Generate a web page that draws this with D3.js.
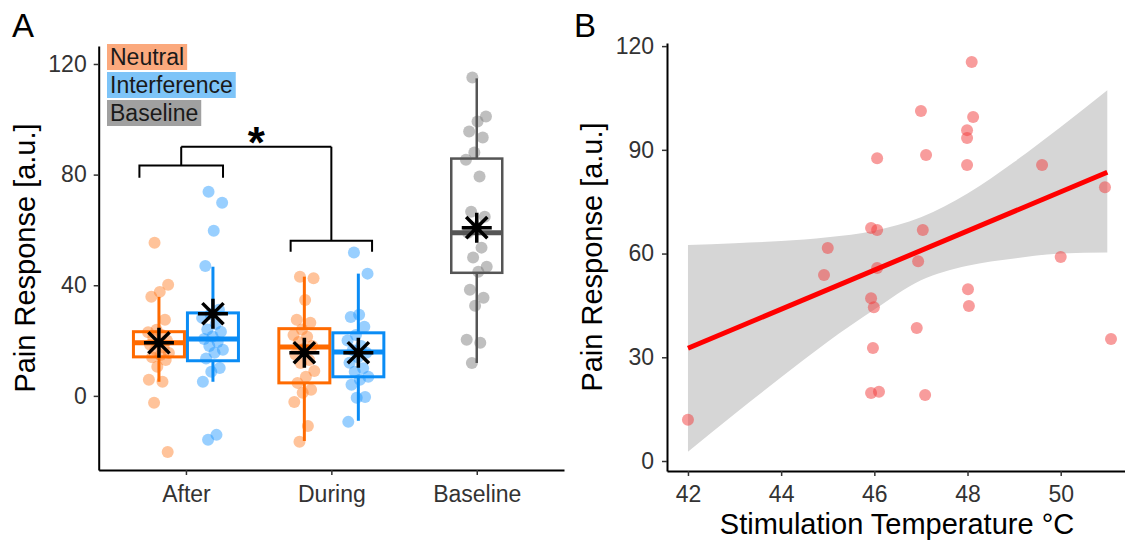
<!DOCTYPE html>
<html>
<head>
<meta charset="utf-8">
<script src="https://cdn.jsdelivr.net/npm/d3@7"></script>
<style>
  body { margin: 0; background: #fff; }
  text { font-family: "Liberation Sans", Arial, sans-serif; }
</style>
</head>
<body>
<svg id="chart" width="1125" height="543"></svg>
<script>
// ---- panel A data ----
const groups = ["After", "During", "Baseline"];
const conditions = ["Neutral", "Interference"];

// box summaries
const boxGroup  = ["After", "After", "During", "During", "Baseline"];
const boxCond   = ["Neutral", "Interference", "Neutral", "Interference", "Baseline"];
const boxLow    = [5.1, 5.1, -16.3, -9.0, 11.9];
const boxQ1     = [14.1, 12.7, 4.7, 6.9, 44.5];
const boxMedian = [19.2, 20.6, 17.7, 15.9, 59.0];
const boxQ3     = [23.2, 30.0, 24.3, 22.8, 85.8];
const boxHigh   = [35.8, 46.7, 43.1, 44.2, 114.8];
const boxMean   = [19.2, 29.7, 15.6, 15.6, 60.8];

// individual responses
const afterNeutral = [55.4, 40.2, 37.6, 35.8, 27.5, 23.9, 23.0, 22.0, 21.0, 20.0, 19.2, 18.5,
  17.5, 16.7, 15.5, 14.8, 14.0, 13.0, 10.5, 5.8, 5.1, -2.5, -20.3];
const afterInterference = [73.8, 69.8, 59.7, 47.0, 31.1, 29.5, 28.2, 26.0, 24.0, 23.2, 21.5,
  20.6, 19.5, 18.0, 16.7, 15.6, 13.5, 10.1, 8.7, 5.1, -14.1, -15.9];
const duringNeutral = [43.1, 42.5, 34.7, 27.5, 26.4, 24.0, 22.0, 21.4, 19.5, 18.0, 17.0, 15.0,
  13.0, 11.9, 9.0, 6.9, 4.7, 2.2, 1.1, -2.2, -10.9, -16.6];
const duringInterference = [51.8, 44.2, 29.3, 28.5, 25.0, 22.0, 20.0, 18.0, 16.5, 15.6, 14.0,
  12.0, 10.0, 8.7, 6.9, 5.8, 4.0, -0.4, -0.7, -9.4];
const baselineValues = [115.1, 101.0, 99.2, 95.6, 93.4, 88.0, 85.4, 79.3, 66.6, 64.8, 61.0,
  59.0, 53.6, 50.0, 46.7, 44.9, 38.4, 35.5, 32.6, 20.3, 19.2, 11.9];
const pointSets = [afterNeutral, afterInterference, duringNeutral, duringInterference, baselineValues];

const legendLabels = ["Neutral", "Interference", "Baseline"];
const yTicksA = [0, 40, 80, 120];

// significance bracket levels
const bracketLevels = [83.3, 56.1];
const bracketDrops = [78.9, 52.1];
const bracketTop = 90.1;

// ---- panel B data ----
const tempX = [42.0, 44.92, 45.0, 46.06, 45.93, 46.06, 46.06, 45.93, 45.99, 45.97, 45.93, 46.10,
  47.0, 47.11, 47.04, 46.94, 46.91, 47.09, 48.09, 48.12, 47.99, 47.99, 47.99, 48.01, 48.03,
  49.6, 50.0, 50.95, 51.08];
const painY = [11.9, 53.8, 61.6, 87.6, 67.4, 66.8, 55.8, 47.1, 44.5, 32.7, 19.7, 20.0,
  101.2, 88.5, 66.8, 57.8, 38.5, 19.1, 115.4, 99.5, 95.7, 93.4, 85.6, 49.7, 44.8,
  85.6, 59.0, 79.2, 35.3];
const fitX = [42, 51.0];
const fitY = [32.6, 83.5];
const ciX = [42, 43, 44, 45, 46, 47, 48, 49, 50, 51];
const ciLow = [2.7, 13.6, 24.2, 34.5, 43.8, 52.3, 56.5, 58.6, 60.0, 60.3];
const ciHigh = [62.5, 63.0, 63.6, 64.7, 66.6, 70.5, 77.4, 86.5, 96.6, 107.2];
const xTicksB = [42, 44, 46, 48, 50];
const yTicksB = [0, 30, 60, 90, 120];

const colors = { Neutral: "#ff6a00", Interference: "#0a8cf5", Baseline: "#555555" };
const pointColors = { Neutral: "#ff7a1f", Interference: "#1a94ff", Baseline: "#808080" };
const legendFill = { Neutral: "#fba97d", Interference: "#7dc4f8", Baseline: "#a0a0a0" };

const svg = d3.select("#chart");

function styleAxis(g) {
  g.select(".domain").attr("stroke", "#000").attr("stroke-width", 2);
  g.selectAll(".tick line").attr("stroke", "#333").attr("stroke-width", 1.5);
  g.selectAll(".tick text").attr("fill", "#333").style("font-size", "23px")
    .style("font-family", '"Liberation Sans", Arial, sans-serif');
}

function asterisk(g, cx, cy, r) {
  const d = r / Math.SQRT2;
  g.append("path")
    .attr("d", `M${cx - r},${cy}H${cx + r}M${cx},${cy - r}V${cy + r}` +
      `M${cx - d},${cy - d}L${cx + d},${cy + d}M${cx - d},${cy + d}L${cx + d},${cy - d}`)
    .attr("stroke", "#000").attr("stroke-width", 3.5).attr("fill", "none");
}

// ================= Panel A =================
const yA = d3.scaleLinear().domain([-26.8, 126.5]).range([470, 46]);
const xA = d3.scalePoint().domain(groups).range([98.7, 564]).padding(0.6);
const step = xA.step();
const dodge = d3.scaleBand().domain(conditions).range([-54, 54]);
const boxW = 51;

function boxCenter(i) {
  const c = xA(boxGroup[i]);
  if (boxCond[i] === "Baseline") return c;
  return c + dodge(boxCond[i]) + dodge.bandwidth() / 2;
}

const gA = svg.append("g");

// jittered points
pointSets.forEach((vals, i) => {
  const cx = boxCenter(i);
  const cond = boxCond[i];
  gA.append("g").selectAll("circle").data(vals).join("circle")
    .attr("cx", (d, j) => cx + (((j * 0.618034 + 0.3) % 1) - 0.5) * 22)
    .attr("cy", d => yA(d))
    .attr("r", 6)
    .attr("fill", pointColors[cond])
    .attr("fill-opacity", cond === "Baseline" ? 0.5 : 0.45);
});

// boxes
boxGroup.forEach((grp, i) => {
  const cx = boxCenter(i);
  const col = colors[boxCond[i]];
  const sw = boxCond[i] === "Baseline" ? 2.5 : 3;
  const g = gA.append("g");
  g.append("line").attr("x1", cx).attr("x2", cx)
    .attr("y1", yA(boxHigh[i])).attr("y2", yA(boxQ3[i]))
    .attr("stroke", col).attr("stroke-width", sw);
  g.append("line").attr("x1", cx).attr("x2", cx)
    .attr("y1", yA(boxQ1[i])).attr("y2", yA(boxLow[i]))
    .attr("stroke", col).attr("stroke-width", sw);
  g.append("rect").attr("x", cx - boxW / 2).attr("width", boxW)
    .attr("y", yA(boxQ3[i])).attr("height", yA(boxQ1[i]) - yA(boxQ3[i]))
    .attr("fill", "none").attr("stroke", col).attr("stroke-width", sw);
  g.append("line").attr("x1", cx - boxW / 2).attr("x2", cx + boxW / 2)
    .attr("y1", yA(boxMedian[i])).attr("y2", yA(boxMedian[i]))
    .attr("stroke", col).attr("stroke-width", 5);
  asterisk(g, cx, yA(boxMean[i]), 15);
});

// axes
const axA_y = gA.append("g").attr("transform", "translate(98.7,0)")
  .call(d3.axisLeft(yA).tickValues(yTicksA).tickSize(5).tickSizeOuter(0).tickPadding(7));
styleAxis(axA_y);
const axA_x = gA.append("g").attr("transform", "translate(0,470)")
  .call(d3.axisBottom(xA).tickSize(5).tickSizeOuter(0).tickPadding(11));
styleAxis(axA_x);

gA.append("text")
  .attr("transform", "translate(35,258) rotate(-90)")
  .attr("text-anchor", "middle").style("font-size", "29px").attr("fill", "#000")
  .text("Pain Response [a.u.]");

// legend (coloured labels)
legendLabels.forEach((lab, i) => {
  const top = 44 + i * 28;
  const g = gA.append("g");
  const rect = g.append("rect").attr("x", 107).attr("y", top).attr("height", 26)
    .attr("fill", legendFill[lab]);
  const t = g.append("text").attr("x", 110).attr("y", top + 21)
    .style("font-size", "23px").attr("fill", "#1a1a1a").text(lab);
  rect.attr("width", t.node().getComputedTextLength() + 6);
});

// significance brackets
const bracketGroups = ["After", "During"];
const bracketLeft = [-0.32, -0.28];
const bracketRight = [0.255, 0.28];
const stems = [];
bracketGroups.forEach((grp, i) => {
  const x0 = xA(grp) + bracketLeft[i] * step;
  const x1 = xA(grp) + bracketRight[i] * step;
  const y = yA(bracketLevels[i]);
  const yd = yA(bracketDrops[i]);
  const xm = (x0 + x1) / 2;
  stems.push(xm);
  gA.append("path")
    .attr("d", `M${x0},${yd}V${y}H${x1}V${yd}M${xm},${y}V${yA(bracketTop)}`)
    .attr("fill", "none").attr("stroke", "#000").attr("stroke-width", 2);
});
gA.append("path")
  .attr("d", `M${stems[0]},${yA(bracketTop)}H${stems[1]}`)
  .attr("stroke", "#000").attr("stroke-width", 2);
gA.append("text").attr("x", (stems[0] + stems[1]) / 2).attr("y", yA(bracketTop) + 11)
  .attr("text-anchor", "middle").style("font-size", "44px").style("font-weight", "bold")
  .attr("fill", "#000").text("*");

gA.append("text").attr("x", 12).attr("y", 37).style("font-size", "33px").text("A");

// ================= Panel B =================
const xB = d3.scaleLinear().domain([41.55, 51.38]).range([667, 1125]);
const yB = d3.scaleLinear().domain([-2.89, 120.9]).range([471, 43]);
const gB = svg.append("g");

const ci = ciX.map((x, i) => ({ x, lo: ciLow[i], hi: ciHigh[i] }));
gB.append("path").datum(ci)
  .attr("d", d3.area().x(d => xB(d.x)).y0(d => yB(d.lo)).y1(d => yB(d.hi)).curve(d3.curveMonotoneX))
  .attr("fill", "#d6d6d6");

gB.append("g").selectAll("circle").data(tempX).join("circle")
  .attr("cx", d => xB(d))
  .attr("cy", (d, i) => yB(painY[i]))
  .attr("r", 6)
  .attr("fill", "#f23a3a").attr("fill-opacity", 0.5);

gB.append("path").datum(fitX.map((x, i) => [x, fitY[i]]))
  .attr("d", d3.line().x(d => xB(d[0])).y(d => yB(d[1])))
  .attr("stroke", "#ff0000").attr("stroke-width", 5).attr("fill", "none");

const axB_y = gB.append("g").attr("transform", "translate(667,0)")
  .call(d3.axisLeft(yB).tickValues(yTicksB).tickSize(5).tickSizeOuter(0).tickPadding(8));
styleAxis(axB_y);
const axB_x = gB.append("g").attr("transform", "translate(0,471)")
  .call(d3.axisBottom(xB).tickValues(xTicksB).tickSize(5).tickSizeOuter(0).tickPadding(10));
styleAxis(axB_x);

gB.append("text")
  .attr("transform", "translate(602,257) rotate(-90)")
  .attr("text-anchor", "middle").style("font-size", "29px").attr("fill", "#000")
  .text("Pain Response [a.u.]");
gB.append("text").attr("x", 897).attr("y", 534)
  .attr("text-anchor", "middle").style("font-size", "29px").attr("fill", "#000")
  .text("Stimulation Temperature °C");

gB.append("text").attr("x", 574).attr("y", 37).style("font-size", "33px").text("B");
</script>
</body>
</html>
